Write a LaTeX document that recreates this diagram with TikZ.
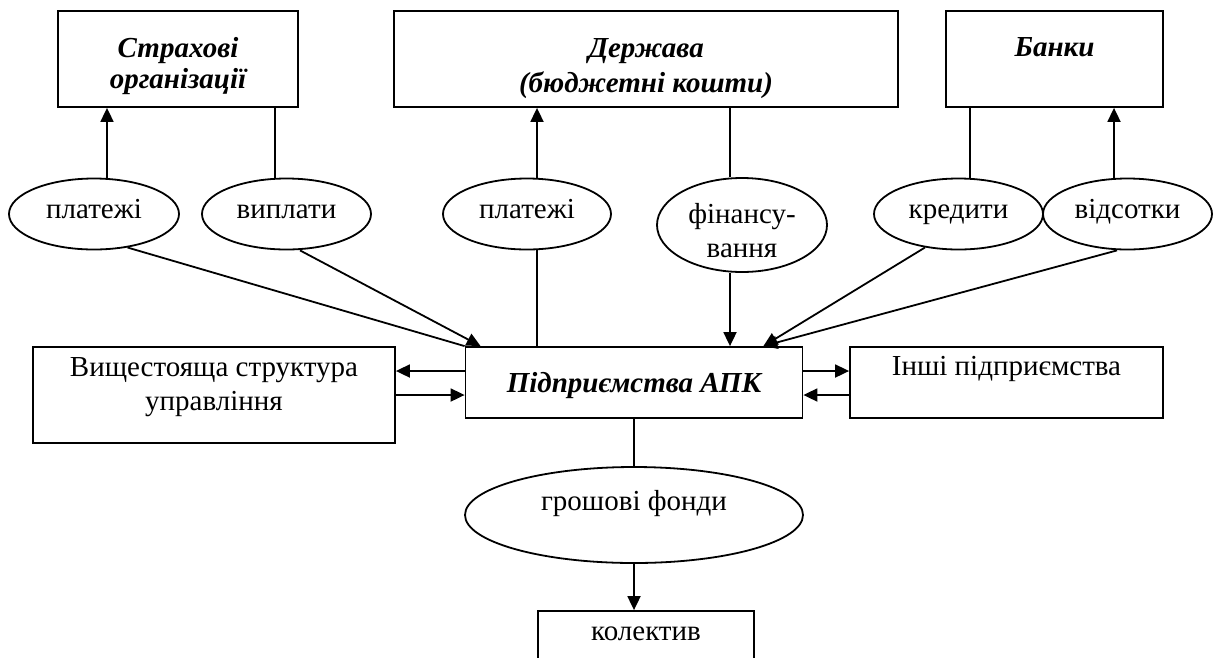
\documentclass[tikz,border=0pt]{standalone}
\usepackage{fontspec}
\setmainfont{Liberation Serif}
\usetikzlibrary{arrows.meta,shapes.geometric,calc}
\begin{document}
\begin{tikzpicture}[x=1pt,y=-1pt,line width=1.8pt,
  font=\fontsize{29}{34}\selectfont,
  box/.style={draw,rectangle,inner sep=0pt},
  oval/.style={draw,ellipse,inner sep=0pt},
  lab/.style={anchor=north,inner sep=0pt,align=center},
  arr/.style={-{Triangle[length=14pt,width=13pt]}}]
\clip (0,0) rectangle (1215,657);
\fill[white] (0,0) rectangle (1215,657);
% top boxes
\node[box,minimum width=240pt,minimum height=96pt,
  label={[lab,yshift=-26pt,font=\fontsize{29}{31}\selectfont\bfseries\itshape]north:{Страхові\\організації}}] (ins) at (178,59) {};
\node[box,minimum width=504pt,minimum height=96pt,
  label={[lab,yshift=-28pt,font=\fontsize{29}{35}\selectfont\bfseries\itshape]north:{Держава\\(бюджетні кошти)}}] (state) at (646,59) {};
\node[box,minimum width=217pt,minimum height=96pt,
  label={[lab,yshift=-27pt,font=\fontsize{29}{34}\selectfont\bfseries\itshape]north:{Банки}}] (bank) at (1054.5,59) {};
% ellipses
\node[oval,minimum width=170pt,minimum height=71pt,text height=10pt,text depth=2pt] (e1) at (94,214) {платежі};
\node[oval,minimum width=169pt,minimum height=71pt,text height=10pt,text depth=2pt] (e2) at (286.5,214) {виплати};
\node[oval,minimum width=168pt,minimum height=71pt,text height=10pt,text depth=2pt] (e3) at (527,214) {платежі};
\node[oval,minimum width=170pt,minimum height=94pt,
  label={[lab,yshift=-25pt,font=\fontsize{29}{34}\selectfont]north:{фінансу-\\вання}}] (e4) at (742,225) {};
\node[oval,minimum width=169pt,minimum height=71pt,text height=10pt,text depth=2pt] (e5) at (958.5,214) {кредити};
\node[oval,minimum width=169pt,minimum height=71pt,text height=10pt,text depth=2pt] (e6) at (1127.5,214) {відсотки};
% middle row
\node[box,minimum width=337pt,minimum height=71pt,text height=20pt,text depth=0pt,
  font=\fontsize{29}{34}\selectfont\bfseries\itshape] (apk) at (634,382.5) {Підприємства АПК};
\node[box,minimum width=362pt,minimum height=96pt,
  label={[lab,yshift=-11pt]north:{Вищестояща структура\\управління}}] (upr) at (214,395) {};
\node[box,minimum width=313pt,minimum height=71pt,
  label={[lab,yshift=-9pt]north:{Інші підприємства}}] (oth) at (1006.5,382.5) {};
% bottom
\node[oval,minimum width=338pt,minimum height=96pt,text height=8pt,text depth=18pt] (fonds) at (634,515) {грошові фонди};
\node[box,minimum width=216pt,minimum height=60pt,text height=10pt,text depth=12pt] (team) at (646,641) {колектив};
% connectors top
\coordinate (a1) at ([xshift=13pt]e1.north);
\draw[arr] (a1) -- (a1 |- ins.south);
\coordinate (a2) at ([xshift=-11.5pt]e2.north);
\draw (a2 |- ins.south) -- (a2);
\coordinate (a3) at ([xshift=10pt]e3.north);
\draw[arr] (a3) -- (a3 |- state.south);
\coordinate (a4) at ([xshift=-12pt]e4.north);
\draw (a4 |- state.south) -- (a4);
\coordinate (a5) at ([xshift=11.5pt]e5.north);
\draw (a5 |- bank.south) -- (a5);
\coordinate (a6) at ([xshift=-13.5pt]e6.north);
\draw[arr] (a6) -- (a6 |- bank.south);
% connectors to APK
\draw (e1.-45) -- (apk.north west);
\draw[arr] ([xshift=13.5pt]e2.south) -- ([xshift=16pt]apk.north west);
\coordinate (b3) at ([xshift=10pt]e3.south);
\draw (b3) -- (b3 |- apk.north);
\coordinate (b4) at ([xshift=-12pt]e4.south);
\draw[arr] (b4) -- (b4 |- apk.north);
\draw[arr] (e5.-135) -- ([xshift=-40pt]apk.north east);
\draw[arr] ([xshift=-10.5pt]e6.south) -- ([xshift=-40pt]apk.north east);
% horizontal
\coordinate (h1) at ([yshift=11.5pt]apk.west);
\draw[arr] (h1) -- (h1 -| upr.east);
\coordinate (h2) at ([yshift=-12.5pt]apk.west);
\draw[arr] (h2 -| upr.east) -- (h2);
\coordinate (h3) at ([yshift=11.5pt]apk.east);
\draw[arr] (h3) -- (h3 -| oth.west);
\coordinate (h4) at ([yshift=-12.5pt]apk.east);
\draw[arr] (h4 -| oth.west) -- (h4);
% bottom
\draw (apk.south) -- (apk.south |- fonds.north);
\draw[arr] (fonds.south) -- (fonds.south |- team.north);
\end{tikzpicture}
\end{document}
